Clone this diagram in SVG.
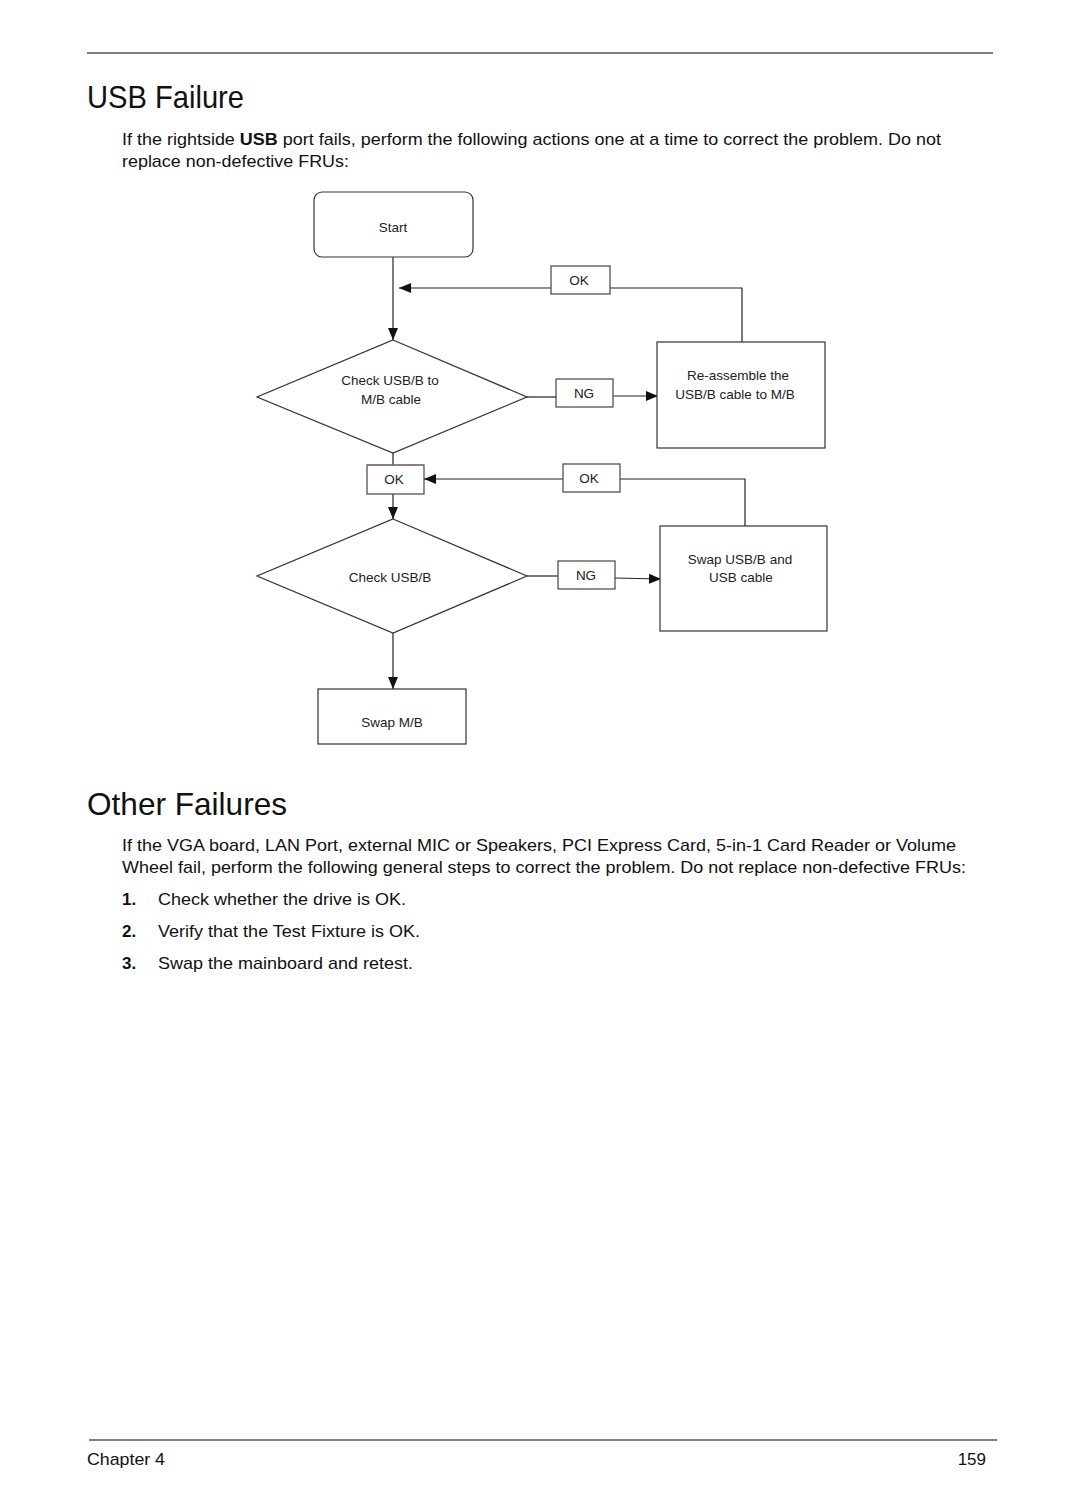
<svg xmlns="http://www.w3.org/2000/svg" width="1080" height="1512" viewBox="0 0 1080 1512">
<style>
.body{font-family:"Liberation Sans",Arial,sans-serif;font-size:17px;fill:#111}
.title{font-family:"Liberation Sans",Arial,sans-serif;font-size:32px;fill:#111}
.fc{font-family:"Liberation Sans",Arial,sans-serif;font-size:13.5px;fill:#222;text-anchor:middle}
.box{fill:#fff;stroke:#333;stroke-width:1.2}
.lbl{fill:#fff;stroke:#444;stroke-width:1.2}
.conn{fill:none;stroke:#222;stroke-width:1.2}
.rule{stroke:#808080;stroke-width:2}
</style>
<defs>
<marker id="arr" markerUnits="userSpaceOnUse" markerWidth="12" markerHeight="12" viewBox="0 0 12 12" refX="12" refY="6" orient="auto">
<path d="M0,1 L12,6 L0,11 Z" fill="#111"/>
</marker>
</defs>
<rect width="1080" height="1512" fill="#fff"/>

<line class="rule" x1="87" y1="53" x2="993" y2="53"/>
<text class="title" x="87" y="108" textLength="157" lengthAdjust="spacingAndGlyphs">USB Failure</text>
<text class="body" x="122" y="145" textLength="819" lengthAdjust="spacingAndGlyphs">If the rightside <tspan font-weight="bold">USB</tspan> port fails, perform the following actions one at a time to correct the problem. Do not</text>
<text class="body" x="122" y="167" textLength="227" lengthAdjust="spacingAndGlyphs">replace non-defective FRUs:</text>

<g id="connectors">
<line class="conn" x1="393" y1="257" x2="393" y2="340" marker-end="url(#arr)"/>
<polyline class="conn" points="742,342 742,288 610,288"/>
<line class="conn" x1="551" y1="288" x2="399" y2="288" marker-end="url(#arr)"/>
<line class="conn" x1="527" y1="397" x2="556" y2="397"/>
<line class="conn" x1="613" y1="396" x2="658" y2="396" marker-end="url(#arr)"/>
<line class="conn" x1="393" y1="453" x2="393" y2="465"/>
<line class="conn" x1="393" y1="494" x2="393" y2="519" marker-end="url(#arr)"/>
<polyline class="conn" points="745,526 745,479 620,479"/>
<line class="conn" x1="563" y1="479" x2="424" y2="479" marker-end="url(#arr)"/>
<line class="conn" x1="527" y1="576" x2="558" y2="576"/>
<line class="conn" x1="615" y1="578" x2="661" y2="579" marker-end="url(#arr)"/>
<line class="conn" x1="393" y1="633" x2="393" y2="689" marker-end="url(#arr)"/>
</g>

<g id="start">
<rect class="box" x="314" y="192" width="159" height="65" rx="8"/>
<text class="fc" x="393" y="232">Start</text>
</g>

<g id="label-ok1">
<rect class="lbl" x="551" y="266" width="59" height="28"/>
<text class="fc" x="579" y="285">OK</text>
</g>

<g id="check-cable">
<polygon class="box" points="393,340 527,397 393,453 257,397"/>
<text class="fc" x="390" y="385">Check USB/B to</text>
<text class="fc" x="391" y="404">M/B cable</text>
</g>

<g id="label-ng1">
<rect class="lbl" x="556" y="379" width="57" height="28"/>
<text class="fc" x="584" y="398">NG</text>
</g>

<g id="reassemble">
<rect class="box" x="657" y="342" width="168" height="106"/>
<text class="fc" x="738" y="380">Re-assemble the</text>
<text class="fc" x="735" y="399">USB/B cable to M/B</text>
</g>

<g id="label-ok2">
<rect class="lbl" x="367" y="465" width="57" height="29"/>
<line x1="367" y1="465" x2="424" y2="465" stroke="#a06a6a" stroke-width="1.2"/>
<text class="fc" x="394" y="484">OK</text>
</g>

<g id="label-ok3">
<rect class="lbl" x="563" y="464" width="57" height="28"/>
<text class="fc" x="589" y="483">OK</text>
</g>

<g id="swap-usb">
<rect class="box" x="660" y="526" width="167" height="105"/>
<text class="fc" x="740" y="564">Swap USB/B and</text>
<text class="fc" x="741" y="582">USB cable</text>
</g>

<g id="check-usbb">
<polygon class="box" points="393,519 527,576 393,633 257,576"/>
<text class="fc" x="390" y="582">Check USB/B</text>
</g>

<g id="label-ng2">
<rect class="lbl" x="558" y="561" width="57" height="28"/>
<text class="fc" x="586" y="580">NG</text>
</g>

<g id="swap-mb">
<rect class="box" x="318" y="689" width="148" height="55"/>
<text class="fc" x="392" y="727">Swap M/B</text>
</g>

<text class="title" x="87" y="815" textLength="200" lengthAdjust="spacingAndGlyphs">Other Failures</text>
<text class="body" x="122" y="851" textLength="834" lengthAdjust="spacingAndGlyphs">If the VGA board, LAN Port, external MIC or Speakers, PCI Express Card, 5-in-1 Card Reader or Volume</text>
<text class="body" x="122" y="873" textLength="844" lengthAdjust="spacingAndGlyphs">Wheel fail, perform the following general steps to correct the problem. Do not replace non-defective FRUs:</text>
<text class="body" x="122" y="905" font-weight="bold">1.</text>
<text class="body" x="158" y="905" textLength="248" lengthAdjust="spacingAndGlyphs">Check whether the drive is OK.</text>
<text class="body" x="122" y="937" font-weight="bold">2.</text>
<text class="body" x="158" y="937" textLength="262" lengthAdjust="spacingAndGlyphs">Verify that the Test Fixture is OK.</text>
<text class="body" x="122" y="969" font-weight="bold">3.</text>
<text class="body" x="158" y="969" textLength="255" lengthAdjust="spacingAndGlyphs">Swap the mainboard and retest.</text>

<line class="rule" x1="89" y1="1440" x2="997" y2="1440"/>
<text class="body" x="87" y="1465" textLength="78" lengthAdjust="spacingAndGlyphs">Chapter 4</text>
<text class="body" x="986" y="1465" text-anchor="end">159</text>
</svg>
